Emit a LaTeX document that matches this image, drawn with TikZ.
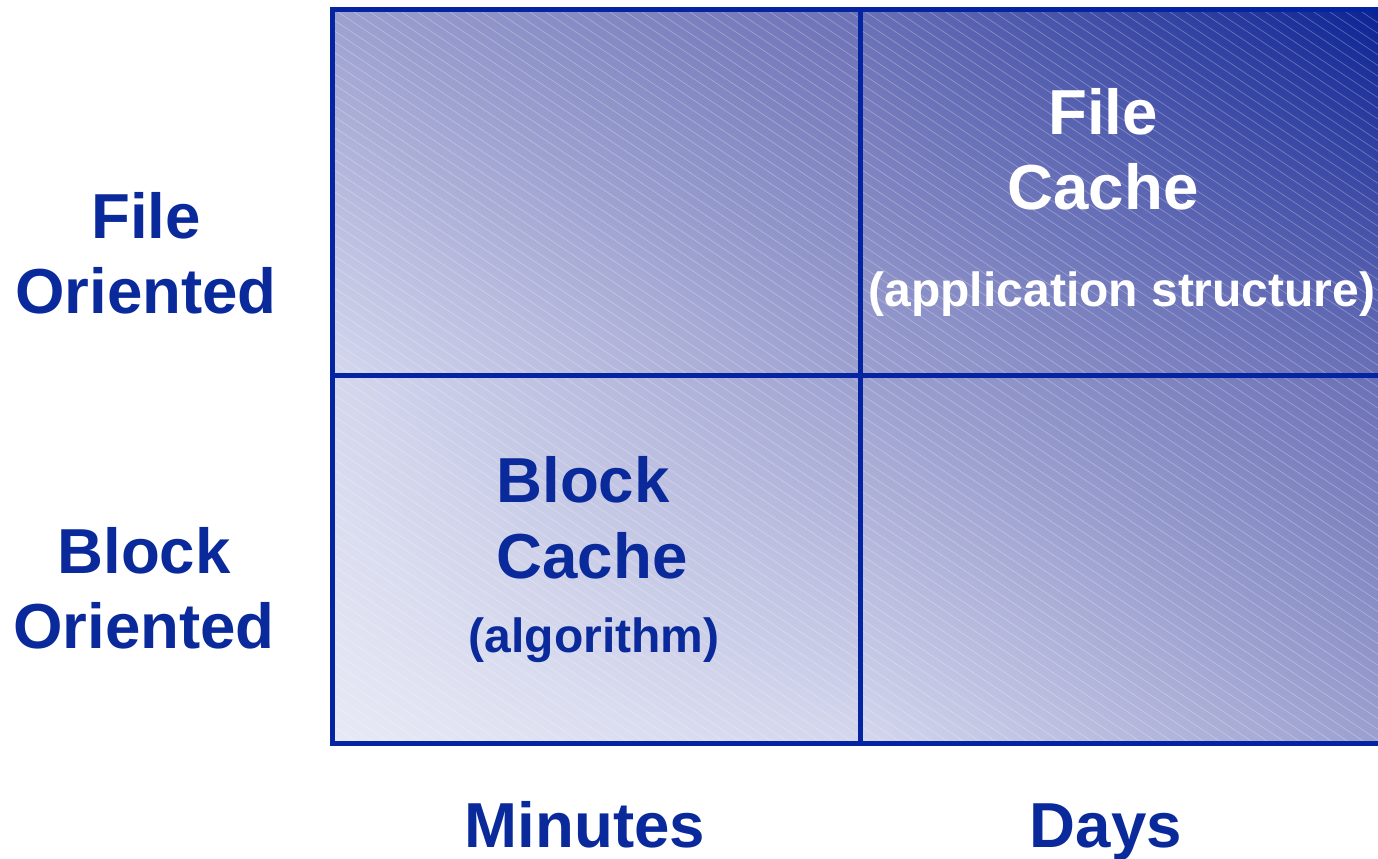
\documentclass[tikz,border=0pt]{standalone}
\usepackage{fontspec}
\setmainfont{Liberation Sans}
\usetikzlibrary{shadings}
\definecolor{gridblue}{HTML}{0524A2}
\definecolor{textblue}{HTML}{0A2A9C}
% diagonal ramp, light at lower left to dark at upper right
\definecolor{rampA}{HTML}{E7E9F5}
\definecolor{rampB}{HTML}{D4D7ED}
\definecolor{rampC}{HTML}{9CA0CF}
\definecolor{rampD}{HTML}{6A70B6}
\definecolor{rampE}{HTML}{0C2394}
\tikzset{
  big/.style={font=\fontsize{31.8}{36}\selectfont\bfseries, text=textblue, anchor=base, inner sep=0pt},
  small/.style={font=\fontsize{24}{28}\selectfont\bfseries, text=textblue, anchor=base, inner sep=0pt},
  bigw/.style={big, text=white},
  smallw/.style={small, text=white},
  gridline/.style={draw=gridblue, line width=2.5pt},
  hatch/.style={draw=white, opacity=0.28, line width=0.35pt}
}
\begin{document}
\begin{tikzpicture}[x=0.5pt, y=-0.5pt]
\useasboundingbox (0,0) rectangle (1378,858);
% shaded cells of the matrix
\shade[lower left=rampA, upper left=rampB, lower right=rampB, upper right=rampC]
  (333,375) rectangle (860.5,743);
\shade[lower left=rampB, upper left=rampC, lower right=rampC, upper right=rampD]
  (333,9) rectangle (860.5,375);
\shade[lower left=rampB, upper left=rampC, lower right=rampC, upper right=rampD]
  (860.5,375) rectangle (1378,743);
\shade[lower left=rampC, upper left=rampD, lower right=rampD, upper right=rampE]
  (860.5,9) rectangle (1378,375);
% faint diagonal hatching
\begin{scope}
  \clip (333,9) rectangle (1378,743);
  \foreach \c in {-1200,-1184,...,1400}
    \draw[hatch] (\c,0) -- ++(1300,870);
\end{scope}
% grid lines
\coordinate (tl) at (332.5,9);
\coordinate (tr) at (1378,9);
\coordinate (bl) at (332.5,743);
\coordinate (br) at (1378,743);
\coordinate (vt) at (860.5,9);
\coordinate (vb) at (860.5,743);
\coordinate (hl) at (332.5,375);
\coordinate (hr) at (1378,375);
\draw[gridline, line cap=rect] (tr) -- (tl) -- (bl) -- (br);
\draw[gridline] (vt) -- (vb);
\draw[gridline] (hl) -- (hr);
% row labels
\node[big] (fo1) at (146,238) {File};
\node[big] (fo2) at (146,313) {Oriented};
\node[big] (bo1) at (144,573) {Block};
\node[big] (bo2) at (144,648) {Oriented};
% column labels
\node[big] (min) at (585,847) {Minutes};
\node[big] (day) at (1106,847) {Days};
% cell contents
\node[bigw] (fc1) at (1103,134) {File};
\node[bigw] (fc2) at (1103,209) {Cache};
\node[smallw] (fc3) at (1122,306) {(application structure)};
\node[big] (bc1) at (583,502) {Block};
\node[big] (bc2) at (592,578) {Cache};
\node[small] (bc3) at (594,652) {(algorithm)};
\end{tikzpicture}
\end{document}
